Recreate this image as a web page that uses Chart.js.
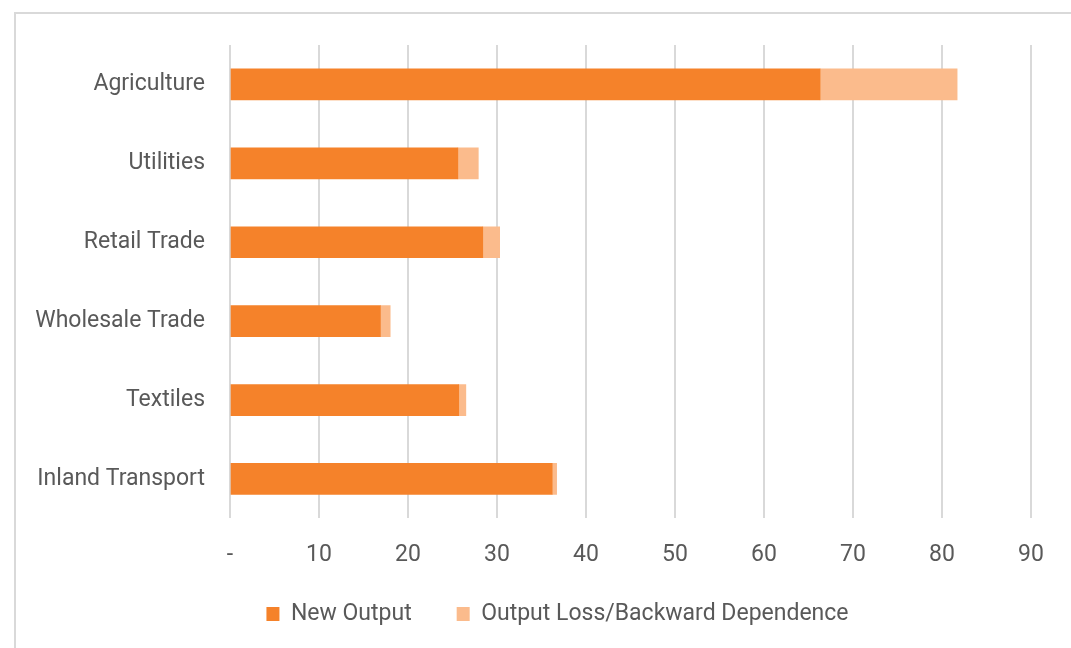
<!DOCTYPE html>
<html>
<head>
<meta charset="utf-8">
<script src="https://cdn.jsdelivr.net/npm/chart.js@4/dist/chart.umd.min.js"></script>
<style>
  html, body { margin: 0; padding: 0; background: #ffffff; }
  #wrap { position: relative; width: 1071px; height: 648px; overflow: hidden; }
  #frame { position: absolute; left: 14px; top: 12px; width: 1200px; height: 800px;
           border-top: 2px solid #d9d9d9; border-left: 2px solid #d9d9d9; pointer-events: none; }
  canvas { position: absolute; left: 0; top: 0; }
</style>
</head>
<body>
<div id="wrap">
  <canvas id="c" width="1071" height="648"></canvas>
  <div id="frame"></div>
</div>
<script>
const categories = ["Agriculture", "Utilities", "Retail Trade", "Wholesale Trade", "Textiles", "Inland Transport"];
const newOutput = [66.3, 25.6, 28.4, 16.9, 25.7, 36.2];
const outputLoss = [15.4, 2.3, 1.9, 1.1, 0.8, 0.5];
const seriesNames = ["New Output", "Output Loss/Backward Dependence"];
const xTicks = [0, 10, 20, 30, 40, 50, 60, 70, 80, 90];

const FONT = "Roboto, 'Liberation Sans', sans-serif";
const TEXT = "#595959";

// position the legend row like the reference (text centre ~611, starting ~266)
const legendPlace = {
  id: "legendPlace",
  afterLayout(chart) {
    const lg = chart.legend;
    if (!lg) return;
    lg.top = 557.5;
    lg.bottom = 648;
    lg.height = lg.bottom - lg.top;
    lg.left += 42;
    lg.right += 42;
  }
};

new Chart(document.getElementById("c"), {
  type: "bar",
  data: {
    labels: categories,
    datasets: [
      { label: seriesNames[0], data: newOutput, backgroundColor: "#f5822a", borderWidth: 0 },
      { label: seriesNames[1], data: outputLoss, backgroundColor: "#fbbb8c", borderWidth: 0 }
    ]
  },
  plugins: [legendPlace],
  options: {
    indexAxis: "y",
    responsive: false,
    animation: false,
    devicePixelRatio: 1,
    layout: { padding: { top: 45, right: 40, left: 0, bottom: 0 } },
    datasets: { bar: { barThickness: 31 } },
    plugins: {
      tooltip: { enabled: false },
      legend: {
        position: "bottom",
        maxHeight: 56,
        labels: {
          font: { family: FONT, size: 23 },
          color: TEXT,
          boxWidth: 13,
          boxHeight: 14,
          padding: 45
        }
      }
    },
    scales: {
      x: {
        stacked: true,
        min: 0, max: 90,
        afterBuildTicks: (s) => { s.ticks = xTicks.map(v => ({ value: v })); },
        ticks: {
          font: { family: FONT, size: 23 },
          color: TEXT,
          padding: 23,
          callback: (v) => v === 0 ? "-" : String(v)
        },
        grid: { color: "#d9d9d9", lineWidth: 2, drawTicks: false },
        border: { display: false }
      },
      y: {
        stacked: true,
        afterFit: (s) => { s.width = 230; },
        ticks: {
          font: { family: FONT, size: 23 },
          color: TEXT,
          padding: 25
        },
        grid: { display: false, drawTicks: false },
        border: { display: false }
      }
    }
  }
});
</script>
</body>
</html>
